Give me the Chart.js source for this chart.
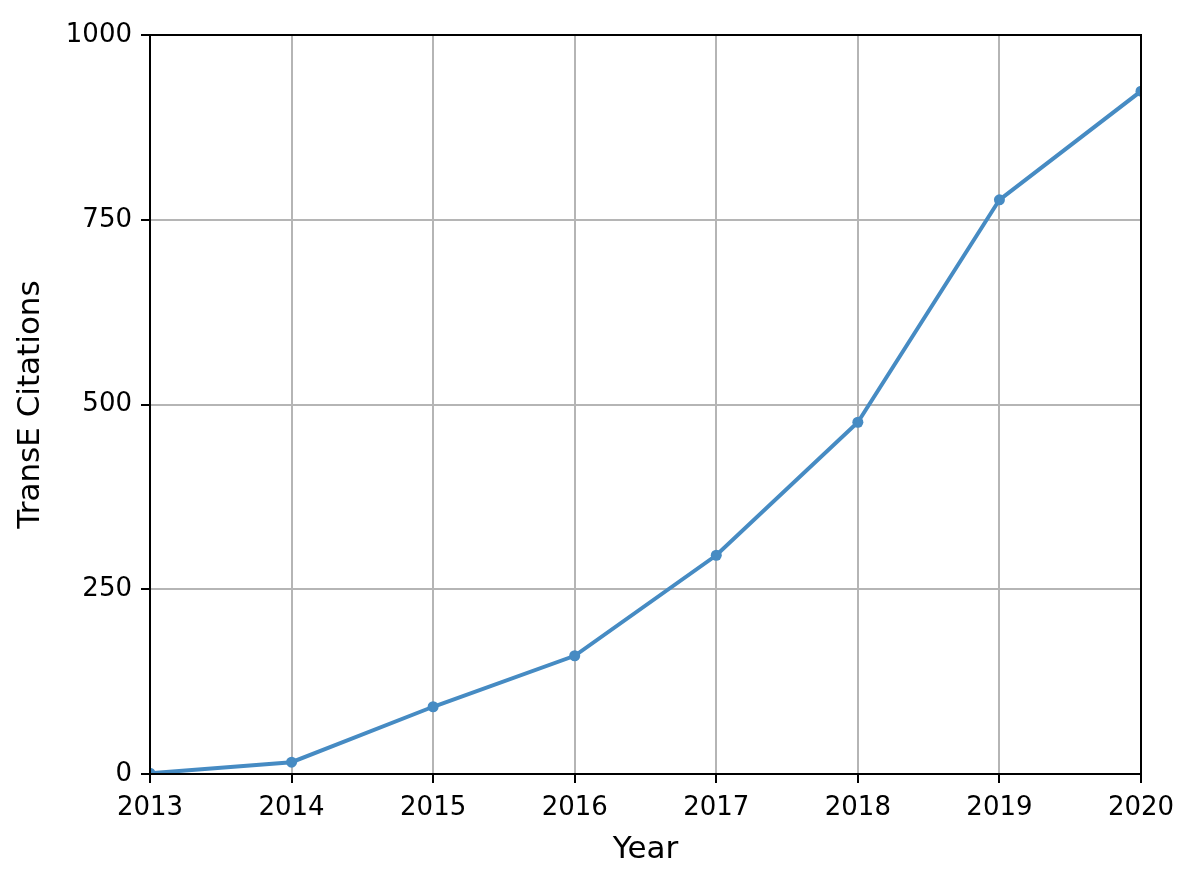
<!DOCTYPE html>
<html>
<head>
<meta charset="utf-8">
<script src="https://cdn.jsdelivr.net/npm/chart.js@4.4.1/dist/chart.umd.min.js"></script>
<style>
  html, body { margin: 0; padding: 0; background: #ffffff; }
  #wrap { width: 1192px; height: 874px; position: relative; }
</style>
</head>
<body>
<div id="wrap"><canvas id="c"></canvas></div>
<script>
const years = ['2013', '2014', '2015', '2016', '2017', '2018', '2019', '2020'];
const citations = [1, 16, 91, 160, 296, 476, 777, 924];
const yTicks = [0, 250, 500, 750, 1000];
const xTitle = 'Year';
const yTitle = 'TransE Citations';

const FONT = "'DejaVu Sans', sans-serif";

const framePlugin = {
  id: 'frame',
  afterDatasetsDraw(chart) {
    const {ctx, chartArea} = chart;
    ctx.save();
    ctx.strokeStyle = '#000000';
    ctx.lineWidth = 2;
    ctx.strokeRect(chartArea.left, chartArea.top, chartArea.right - chartArea.left, chartArea.bottom - chartArea.top);
    ctx.restore();
  }
};

new Chart(document.getElementById('c'), {
  type: 'line',
  data: {
    labels: years,
    datasets: [{
      data: citations,
      borderColor: '#468bc3',
      backgroundColor: '#468bc3',
      borderWidth: 4,
      pointRadius: 5.5,
      pointHoverRadius: 5.5,
      pointBorderWidth: 0,
      tension: 0,
      clip: 0
    }]
  },
  options: {
    responsive: true,
    maintainAspectRatio: false,
    animation: false,
    layout: { padding: { top: 35, right: 51, left: 0, bottom: 0 } },
    plugins: { legend: { display: false }, tooltip: { enabled: false } },
    scales: {
      x: {
        type: 'category',
        offset: false,
        afterFit(scale) { scale.height = 100; },
        grid: { color: '#b5b5b5', lineWidth: 2, tickColor: '#000000', tickLength: 9, tickWidth: 2, offset: false },
        border: { color: '#000000', width: 2 },
        ticks: { color: '#000000', font: { family: FONT, size: 26 }, padding: 10, maxRotation: 0, autoSkip: false },
        title: { display: true, text: xTitle, color: '#000000', font: { family: FONT, size: 31 }, padding: { top: 0, bottom: 5 } }
      },
      y: {
        min: 0,
        max: 1000,
        afterFit(scale) { scale.width = 150; },
        afterBuildTicks(scale) { scale.ticks = yTicks.map(v => ({ value: v })); },
        grid: { color: '#b5b5b5', lineWidth: 2, tickColor: '#000000', tickLength: 9, tickWidth: 2 },
        border: { color: '#000000', width: 2 },
        ticks: { color: '#000000', font: { family: FONT, size: 26 }, padding: 9, callback: v => String(v) },
        title: { display: true, text: yTitle, color: '#000000', font: { family: FONT, size: 31 }, padding: { top: 12, bottom: 0 } }
      }
    }
  },
  plugins: [framePlugin]
});
</script>
</body>
</html>
